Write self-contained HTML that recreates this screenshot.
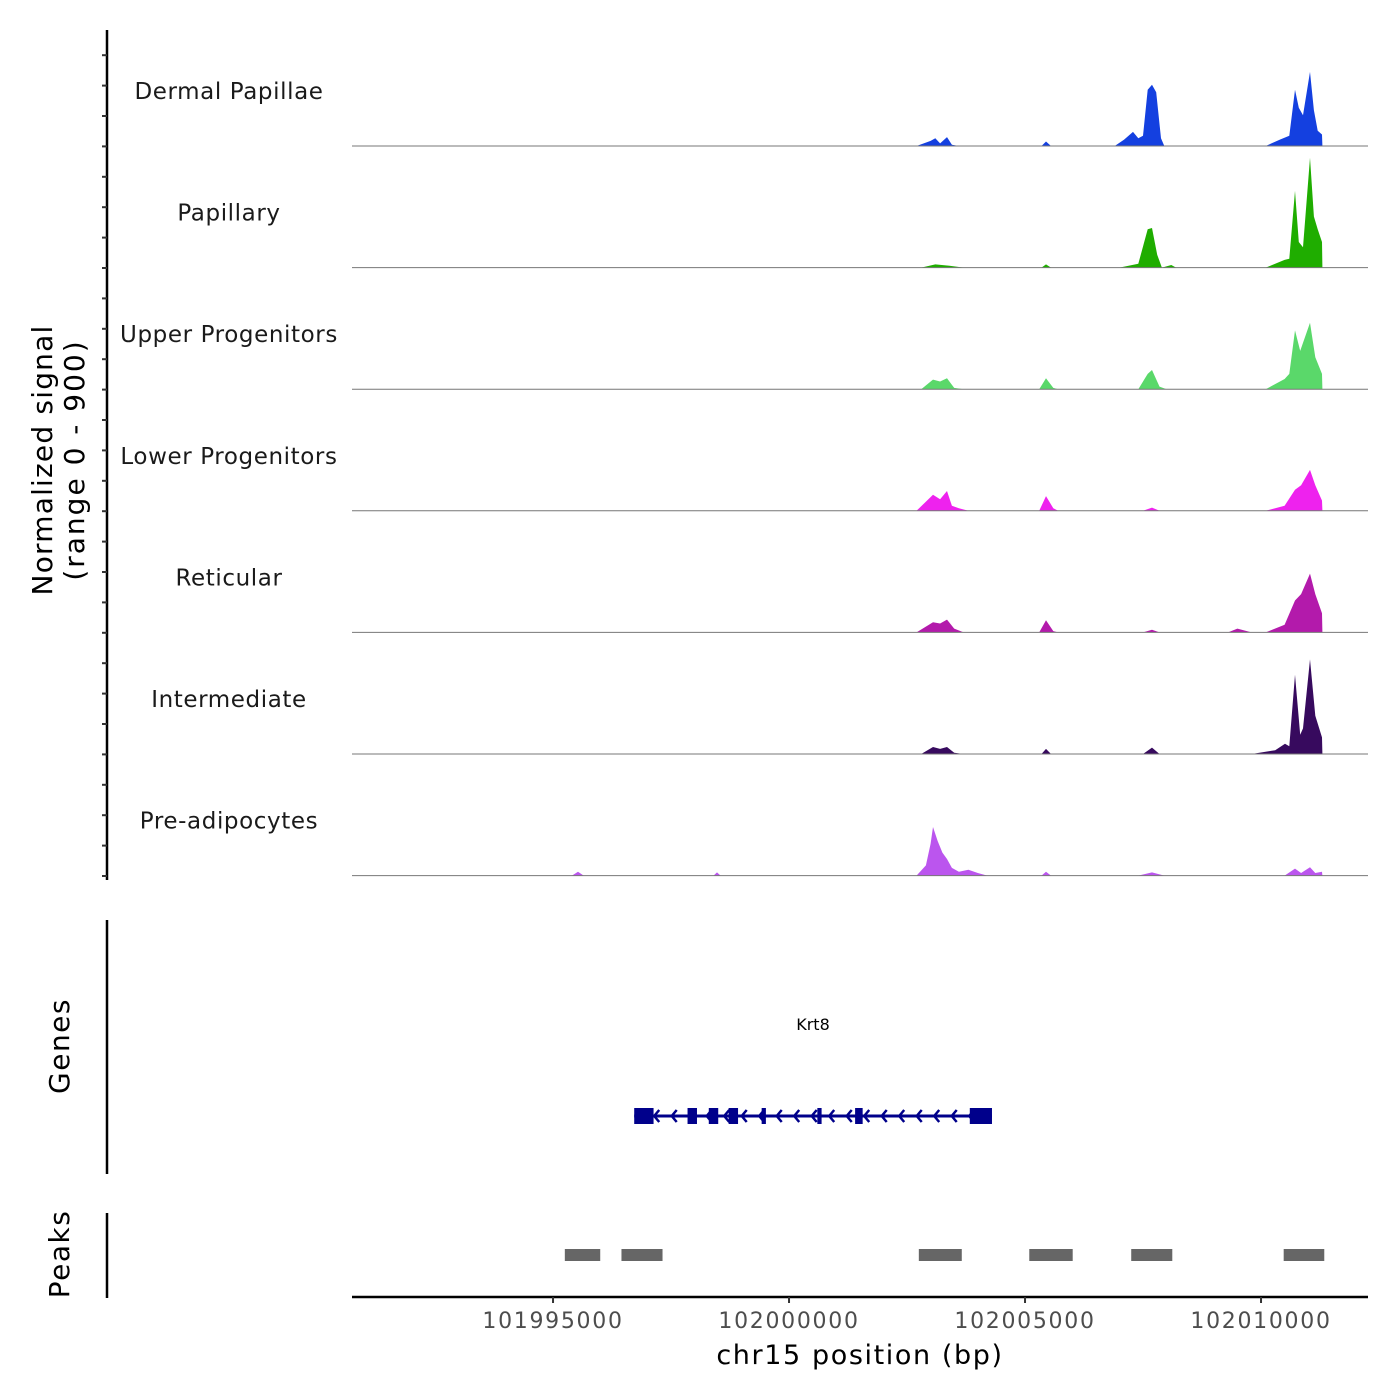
<!DOCTYPE html>
<html><head><meta charset="utf-8"><style>
body{margin:0;background:#fff;}
svg{display:block;font-family:"DejaVu Sans","Liberation Sans",sans-serif;}
</style></head><body>
<svg id="c" width="1400" height="1400" viewBox="0 0 1400 1400"></svg>
<script>
const trackNames=["Dermal Papillae","Papillary","Upper Progenitors","Lower Progenitors","Reticular","Intermediate","Pre-adipocytes"];
const trackColors=["#1440e0","#1fad00","#5ad86a","#ee22ee","#b31aab","#370a5e","#bb55ee"];
const xTicks=[101995000,102000000,102005000,102010000];
const sigDermal=[[102002700,0],[102003000,40],[102003100,60],[102003200,20],[102003347,70],[102003450,10],[102003600,0],[102005350,0],[102005444,35],[102005550,0],[102006900,0],[102007100,50],[102007287,110],[102007400,60],[102007500,80],[102007600,440],[102007690,480],[102007780,420],[102007880,60],[102007950,0],[102010100,0],[102010400,50],[102010600,80],[102010719,440],[102010800,300],[102010889,240],[102011037,580],[102011120,280],[102011200,120],[102011291,90],[102011300,0]];
const sigPapillary=[[102002800,0],[102003100,25],[102003400,15],[102003700,0],[102005350,0],[102005444,25],[102005550,0],[102007000,0],[102007400,30],[102007600,300],[102007690,310],[102007800,100],[102007900,0],[102008100,20],[102008200,0],[102010100,0],[102010500,60],[102010600,70],[102010719,600],[102010800,200],[102010889,160],[102011037,860],[102011120,400],[102011200,300],[102011291,200],[102011300,0]];
const sigUpper=[[102002800,0],[102003050,75],[102003200,60],[102003347,85],[102003500,10],[102003700,0],[102005300,0],[102005444,85],[102005600,10],[102005700,0],[102007400,0],[102007600,120],[102007690,150],[102007850,20],[102008000,0],[102010100,0],[102010500,80],[102010600,120],[102010719,460],[102010830,300],[102011037,520],[102011150,250],[102011291,120],[102011300,0]];
const sigLower=[[102002700,0],[102003050,125],[102003200,90],[102003347,155],[102003450,40],[102003600,20],[102003800,0],[102005300,0],[102005444,115],[102005600,20],[102005700,0],[102007500,0],[102007690,25],[102007850,0],[102010100,0],[102010500,40],[102010719,165],[102010850,200],[102011037,320],[102011150,200],[102011291,80],[102011300,0]];
const sigReticular=[[102002700,0],[102003050,80],[102003200,70],[102003347,100],[102003500,30],[102003700,0],[102005300,0],[102005444,95],[102005600,10],[102005700,0],[102007500,0],[102007690,20],[102007850,0],[102009300,0],[102009500,30],[102009800,0],[102010100,0],[102010500,60],[102010719,250],[102010850,300],[102011037,460],[102011150,300],[102011291,150],[102011300,0]];
const sigIntermediate=[[102002800,0],[102003050,55],[102003200,40],[102003347,55],[102003500,10],[102003700,0],[102005350,0],[102005444,40],[102005550,0],[102007500,0],[102007690,50],[102007850,0],[102009800,0],[102010300,30],[102010508,80],[102010600,60],[102010719,620],[102010830,150],[102010889,200],[102011037,740],[102011150,300],[102011291,130],[102011300,0]];
const sigPreadipo=[[101995400,0],[101995529,30],[101995650,0],[101998400,0],[101998474,25],[101998550,0],[102002700,0],[102002900,80],[102003000,250],[102003050,380],[102003150,270],[102003250,180],[102003347,130],[102003450,60],[102003600,30],[102003800,45],[102004000,20],[102004200,0],[102005350,0],[102005444,30],[102005550,0],[102007400,0],[102007690,25],[102007950,0],[102010500,0],[102010719,55],[102010850,20],[102011037,65],[102011150,20],[102011291,30],[102011300,0]];
const signals=[sigDermal,sigPapillary,sigUpper,sigLower,sigReticular,sigIntermediate,sigPreadipo];
const geneExons=[[101996720,101997130],[101997850,101998050],[101998300,101998500],[101998720,101998920],[101999420,101999510],[102000600,102000690],[102001400,102001560],[102003830,102004300]];
const peakRegions=[[101995250,101996000],[101996450,101997320],[102002750,102003660],[102005090,102006010],[102007250,102008120],[102010480,102011340]];
const svg=document.getElementById('c');
const NS="http://www.w3.org/2000/svg";
const X0=352,X1=1368,BP0=101990741,BPPX=5000/236;
function xs(bp){return X0+(bp-BP0)/BPPX;}
const trackH=121.6, firstBase=146, maxV=900, fullPx=115;
function ys(v,i){return firstBase+i*trackH - v/maxV*fullPx;}
function mk(tag,attrs,parent){const e=document.createElementNS(NS,tag);for(const k in attrs)e.setAttribute(k,attrs[k]);(parent||svg).appendChild(e);return e;}
signals.forEach((pts,i)=>{
  const base=firstBase+i*trackH;
  let d=`M${xs(pts[0][0])},${base}`;
  pts.forEach(p=>{d+=` L${xs(p[0]).toFixed(1)},${ys(p[1],i).toFixed(1)}`;});
  d+=` L${xs(pts[pts.length-1][0])},${base} Z`;
  const a=mk('path',{d:d,fill:trackColors[i]});
  
  
  const l=mk('line',{x1:X0,x2:X1,y1:base,y2:base,stroke:'#777','stroke-width':1});
  
  
  const t=mk('text',{x:229,y:base-47,'text-anchor':'middle','font-size':23,fill:'#1a1a1a','letter-spacing':'0.6'});
  t.textContent=trackNames[i];
  
  
});
let ax=mk('line',{x1:107,x2:107,y1:30,y2:880,stroke:'#000','stroke-width':2.5});


for(let k=0;k<28;k++){const y=876-k*30.4;const tk=mk('line',{x1:102,x2:107,y1:y,y2:y,stroke:'#333','stroke-width':2});

}
let yt=mk('text',{transform:'translate(52,460) rotate(-90)','text-anchor':'middle','font-size':28,fill:'#000','letter-spacing':'1.2'});


yt.innerHTML='<tspan x="0" dy="0">Normalized signal</tspan><tspan x="0" dy="32" letter-spacing="2">(range 0 - 900)</tspan>';
let ga=mk('line',{x1:107,x2:107,y1:920,y2:1174,stroke:'#000','stroke-width':2.5});


let gt=mk('text',{transform:'translate(69,1046) rotate(-90)','text-anchor':'middle','font-size':28,fill:'#000','letter-spacing':'1.5'});
gt.textContent='Genes';


const gStart=geneExons[0][0],gEnd=geneExons[geneExons.length-1][1];
let gl=mk('line',{x1:xs(gStart),x2:xs(gEnd),y1:1116,y2:1116,stroke:'#00008b','stroke-width':3});


geneExons.forEach(e=>{const r=mk('rect',{x:xs(e[0]),y:1108,width:xs(e[1])-xs(e[0]),height:16,fill:'#00008b'});

});
for(let x=xs(gStart)+20;x<xs(gEnd)-8;x+=17.5){const c=mk('path',{d:`M${x+5},${1110} L${x},${1116} L${x+5},${1122}`,fill:'none',stroke:'#00008b','stroke-width':2.5});

}
let gn=mk('text',{x:813,y:1030,'text-anchor':'middle','font-size':16,fill:'#000'});
gn.textContent='Krt8';


let pa=mk('line',{x1:107,x2:107,y1:1213,y2:1298,stroke:'#000','stroke-width':2.5});


let pt=mk('text',{transform:'translate(69,1254) rotate(-90)','text-anchor':'middle','font-size':28,fill:'#000','letter-spacing':'1.5'});
pt.textContent='Peaks';


peakRegions.forEach(p=>{const r=mk('rect',{x:xs(p[0]),y:1249,width:xs(p[1])-xs(p[0]),height:12,fill:'#666'});

});
let xa=mk('line',{x1:X0,x2:X1,y1:1297,y2:1297,stroke:'#000','stroke-width':2.5});


xTicks.forEach(v=>{const x=xs(v);
const tk=mk('line',{x1:x,x2:x,y1:1297,y2:1303,stroke:'#333','stroke-width':2});


const t=mk('text',{x:x,y:1328,'text-anchor':'middle','font-size':22,fill:'#4d4d4d','letter-spacing':'1.7'});
t.textContent=String(v);

});
let xt=mk('text',{x:860,y:1364,'text-anchor':'middle','font-size':27,fill:'#000','letter-spacing':'1.6'});
xt.textContent='chr15 position (bp)';


</script>
</body></html>
